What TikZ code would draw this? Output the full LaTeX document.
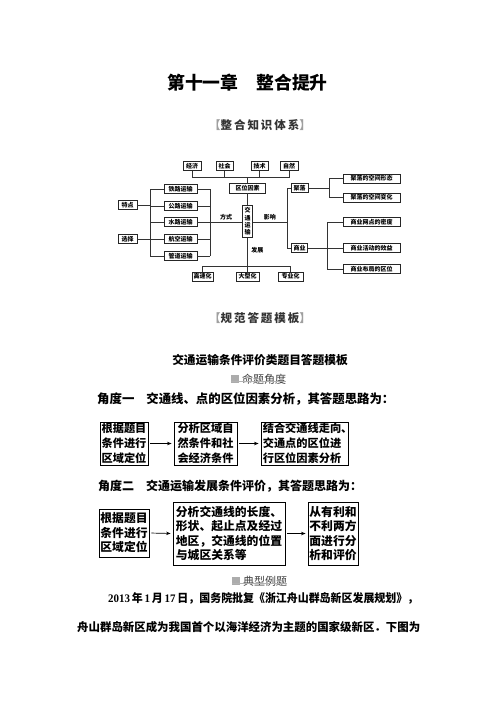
\documentclass[tikz,border=0pt]{standalone}
\usepackage{fontspec}
\usepackage{graphicx}
\setmainfont{Noto Sans CJK SC}
\newfontfamily\lsb{Liberation Serif}
\usetikzlibrary{arrows.meta,calc}
\tikzset{
  dbox/.style={draw=black!85, line width=0.7pt, inner sep=0pt, font=\fontsize{6}{7}\selectfont\bfseries, minimum height=9pt},
  dline/.style={draw=black!80, line width=0.55pt},
  dlab/.style={font=\fontsize{6}{7}\selectfont\bfseries, inner sep=1.5pt},
  tboxa/.style={draw, line width=0.9pt, inner sep=1pt, font=\fontsize{11.2}{15}\selectfont\bfseries, align=left},
  tboxb/.style={draw, line width=0.9pt, inner sep=1pt, font=\fontsize{11.8}{14.5}\selectfont\bfseries, align=left},
  arr/.style={-{Stealth[length=4.5pt,width=3.5pt]}, line width=0.7pt, shorten <=2pt, shorten >=2pt},
  headline/.style={anchor=west, inner sep=0pt, font=\fontsize{12}{12}\selectfont\bfseries},
  marksq/.style={fill=gray!65, minimum size=8pt, inner sep=0pt},
  marktext/.style={anchor=west, inner sep=0pt, text=black!75, font=\fontsize{11}{11}\selectfont},
  sechead/.style={font=\fontsize{11.5}{12}\selectfont\bfseries, text=black!80},
}
\begin{document}
\begin{tikzpicture}[x=1pt,y=-1pt]
\useasboundingbox[fill=white] (0,0) rectangle (496,702);

% title
\node[font=\fontsize{17.8}{18}\selectfont\bfseries] (title) at (247.5,83) {第十一章\hspace{18pt}整合提升};
\node[sechead] (head1) at (260,125) {\textcolor{gray!75}{【}整\,合\,知\,识\,体\,系\textcolor{gray!75}{】}};

% ---- knowledge diagram ----
\node[dbox, minimum width=18pt] (jj) at (192,166) {经济};
\node[dbox, minimum width=17pt] (sh) at (224.5,166) {社会};
\node[dbox, minimum width=17pt] (js) at (259.5,166) {技术};
\node[dbox, minimum width=18pt] (zr) at (289,166) {自然};
\coordinate (bus) at (247.5,177);
\node[dbox, minimum width=36pt, minimum height=10pt] (qw) at (247.5,188) {区位因素};
\node[dbox, minimum width=10pt, minimum height=32pt, align=center, font=\fontsize{6}{7.4}\selectfont\bfseries] (jt) at (247.5,221.5) {交\\通\\运\\输};
\draw[dline] (jj.south) |- (zr.south |- bus) -- (zr.south);
\draw[dline] (sh.south) -- (sh.south |- bus);
\draw[dline] (js.south) -- (js.south |- bus);
\draw[dline] (bus) -- (qw.north);
\draw[dline] (qw.south) -- (jt.north);

\foreach \n/\t/\y in {t1/铁路运输/189, t2/公路运输/206, t3/水路运输/222, t4/航空运输/239, t5/管道运输/256}
  \node[dbox, minimum width=33pt, minimum height=8.5pt] (\n) at (180.5,\y) {\t};
\coordinate (lbT) at (150,189);
\coordinate (lbB) at (150,256);
\coordinate (rbT) at (210,189);
\coordinate (rbB) at (210,256);
\draw[dline] (lbT) -- (lbB);
\draw[dline] (rbT) -- (rbB);
\foreach \n in {t1,t2,t3,t4,t5} {
  \draw[dline] (\n.west) -- (\n.west -| lbT);
  \draw[dline] (\n.east) -- (\n.east -| rbT);
}
\node[dbox, minimum width=19pt, minimum height=8.5pt] (td) at (127.5,205) {特点};
\node[dbox, minimum width=19pt, minimum height=8.5pt] (xz) at (127.5,239) {选择};
\draw[dline] (td.east) -- (td.east -| lbT);
\draw[dline] (xz.east) -- (xz.east -| lbT);
\draw[dline] (t3.east -| rbT) -- (jt.west |- t3.east) node[dlab, midway, above] {方式};

\coordinate (yx) at (287,222);
\draw[dline] (jt.east |- yx) -- (yx) node[dlab, midway, above] {影响};
\node[dbox, minimum width=17pt] (jl) at (299.5,188) {聚落};
\node[dbox, minimum width=16pt, minimum height=8.5pt] (sy) at (299.5,248) {商业};
\draw[dline] (jl.west) -- (jl.west -| yx) -- (sy.west -| yx) -- (sy.west);

\coordinate (jb) at (329,188);
\node[dbox, minimum width=57pt] (jx1) at (371.5,178.5) {聚落的空间形态};
\node[dbox, minimum width=57pt] (jx2) at (371.5,197.5) {聚落的空间变化};
\draw[dline] (jl.east) -- (jb);
\draw[dline] (jx1.west) -- (jx1.west -| jb) -- (jx2.west -| jb) -- (jx2.west);

\coordinate (sb) at (327,248);
\node[dbox, minimum width=57pt] (s1) at (371.5,222) {商业网点的密度};
\node[dbox, minimum width=57pt] (s2) at (371.5,248) {商业活动的效益};
\node[dbox, minimum width=57pt] (s3) at (371.5,269) {商业布局的区位};
\draw[dline] (sy.east) -- (sb);
\draw[dline] (s1.west) -- (s1.west -| sb) -- (s3.west -| sb) -- (s3.west);
\draw[dline] (s2.west) -- (s2.west -| sb);

\coordinate (fz) at (247.5,266);
\node[dbox, minimum width=21pt] (gs) at (202.5,276.5) {高速化};
\node[dbox, minimum width=23pt] (dx) at (247.5,276.5) {大型化};
\node[dbox, minimum width=25pt] (zy) at (290.5,276.5) {专业化};
\draw[dline] (jt.south) -- (dx.north) node[dlab, pos=0.37, right=2pt] {发展};
\draw[dline] (gs.north) -- (gs.north |- fz) -- (zy.north |- fz) -- (zy.north);

% ---- template ----
\node[sechead] (head2) at (260,318) {\textcolor{gray!75}{【}规\,范\,答\,题\,模\,板\textcolor{gray!75}{】}};
\node[font=\fontsize{11.7}{12}\selectfont\bfseries] (sub) at (260,360) {交通运输条件评价类题目答题模板};

\node[marksq] (sq1) at (235,379) {};
\node[marktext] (mt1) at (242,379.5) {命题角度};
\draw[gray!60, line width=0.4pt] ($(sq1.south west)+(0,2pt)$) -- ($(sq1.south west -| mt1.east)+(0,2pt)$);

\node[headline, font=\fontsize{12.4}{12}\selectfont\bfseries] (a1) at (97,399) {角度一\hspace{12pt}交通线、点的区位因素分析，其答题思路为：};

\node[tboxa, minimum width=48pt, minimum height=43pt] (b11) at (124,443.5) {根据题目\\条件进行\\区域定位};
\node[tboxa, minimum width=63pt, minimum height=43pt] (b12) at (205.5,443.5) {分析区域自\\然条件和社\\会经济条件};
\node[tboxa, minimum width=87pt, minimum height=43pt] (b13) at (304.5,443.5) {结合交通线走向\makebox[5pt][l]{、}\\交通点的区位进\\行区位因素分析};
\draw[arr] (b11.east) -- (b12.west);
\draw[arr] (b12.east) -- (b13.west);

\node[headline] (a2) at (98,486) {角度二\hspace{12pt}交通运输发展条件评价，其答题思路为：};

\node[tboxb, minimum width=50pt, minimum height=48pt] (b21) at (124,533) {根据题目\\条件进行\\区域定位};
\node[tboxb, minimum width=112pt, minimum height=63pt] (b22) at (229,533.5) {分析交通线的长度、\\形状、起止点及经过\\地区，交通线的位置\\与城区关系等};
\node[tboxb, minimum width=50pt, minimum height=63pt] (b23) at (333,533.5) {从有利和\\不利两方\\面进行分\\析和评价};
\draw[arr] (b21.east) -- (b22.west);
\draw[arr] (b22.east) -- (b23.west);

\node[marksq] (sq2) at (236,581) {};
\node[marktext] (mt2) at (243,581.5) {典型例题};
\draw[gray!60, line width=0.4pt] ($(sq2.south west)+(0,2pt)$) -- ($(sq2.south west -| mt2.east)+(0,2pt)$);

\node[anchor=west, inner sep=0pt, font=\fontsize{11.5}{12}\selectfont\bfseries] (p1) at (108,598)
  {\resizebox{310pt}{\height}{{\lsb\bfseries 2013}\,年\,{\lsb\bfseries 1}\,月\,{\lsb\bfseries 17}\,日，国务院批复《浙江舟山群岛新区发展规划》，}};
\node[anchor=west, inner sep=0pt, font=\fontsize{11.5}{12}\selectfont\bfseries] (p2) at (77,627)
  {\resizebox{343pt}{\height}{舟山群岛新区成为我国首个以海洋经济为主题的国家级新区．下图为}};
\end{tikzpicture}
\end{document}
